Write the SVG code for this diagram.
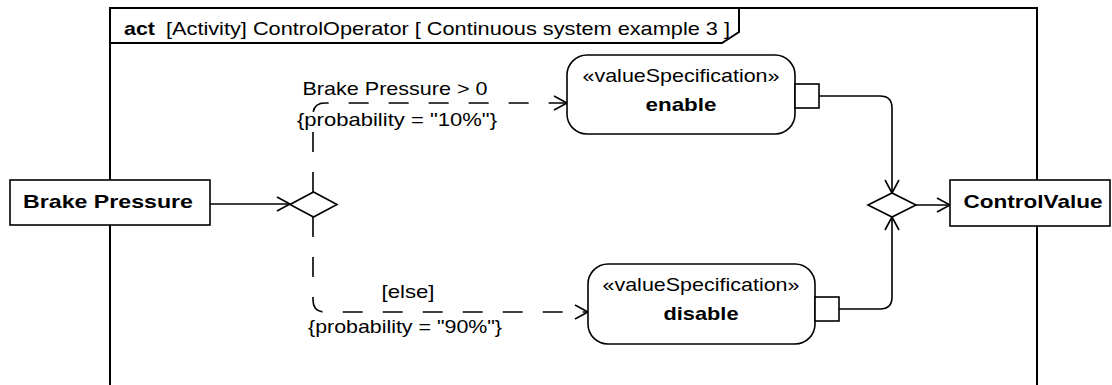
<svg xmlns="http://www.w3.org/2000/svg" width="1112" height="385" viewBox="0 0 1112 385">
<style>
text{font-family:"Liberation Sans",Arial,sans-serif;fill:#000;font-size:19px}
.b{font-weight:bold}
.m{text-anchor:middle}
.box{fill:#fff;stroke:#000;stroke-width:1.6}
.frame{fill:none;stroke:#000;stroke-width:2}
.c{fill:none;stroke:#000;stroke-width:1.6}
.d{stroke-dasharray:20,20}
</style>
<defs>
<marker id="arr" markerUnits="userSpaceOnUse" markerWidth="16" markerHeight="16" refX="13" refY="7" orient="auto" overflow="visible">
<path d="M0,0 L13,7 L0,14" fill="none" stroke="#000" stroke-width="1.6" stroke-dasharray="none"/>
</marker>
</defs>
<g id="frame">
<path class="frame" d="M110,400 L110,8 L1037,8 L1037,400"/>
<path class="frame" d="M110,43 L722,43 L739,32 L739,8"/>
<text class="b" x="124" y="35" textLength="31" lengthAdjust="spacingAndGlyphs">act</text>
<text x="166" y="35" textLength="564" lengthAdjust="spacingAndGlyphs">[Activity] ControlOperator [ Continuous system example 3 ]</text>
</g>
<g id="connectors">
<path class="c" d="M210,204 L290,204" marker-end="url(#arr)"/>
<path class="c d" d="M313,192 L313,115 Q313,103 325,103 L567,103" marker-end="url(#arr)"/>
<path class="c d" d="M313,217 L313,300 Q313,312 325,312 L588,312" marker-end="url(#arr)"/>
<path class="c" d="M819,96 L880,96 Q892,96 892,108 L892,193" marker-end="url(#arr)"/>
<path class="c" d="M839,309 L880,309 Q892,309 892,297 L892,217" marker-end="url(#arr)"/>
<path class="c" d="M916,205 L950,205" marker-end="url(#arr)"/>
<text class="m" x="395" y="95" textLength="185" lengthAdjust="spacingAndGlyphs">Brake Pressure &gt; 0</text>
<text x="297" y="126" textLength="200" lengthAdjust="spacingAndGlyphs">{probability = "10%"}</text>
<text class="m" x="408" y="298" textLength="53" lengthAdjust="spacingAndGlyphs">[else]</text>
<text x="308" y="333" textLength="194" lengthAdjust="spacingAndGlyphs">{probability = "90%"}</text>
</g>
<g id="brakePressure">
<rect class="box" x="10" y="180" width="200" height="45"/>
<text class="b m" x="108" y="208" font-size="20" textLength="170" lengthAdjust="spacingAndGlyphs">Brake Pressure</text>
</g>
<g id="decision">
<path class="box" d="M290,204.5 L313.5,192 L337,204.5 L313.5,217 Z"/>
</g>
<g id="enable">
<rect class="box" x="567" y="55" width="228" height="79" rx="20"/>
<text class="m" x="681" y="82" textLength="197" lengthAdjust="spacingAndGlyphs">«valueSpecification»</text>
<text class="b m" x="681" y="111" textLength="71" lengthAdjust="spacingAndGlyphs">enable</text>
<rect class="box" x="795" y="84" width="24" height="24"/>
</g>
<g id="disable">
<rect class="box" x="588" y="264" width="227" height="80" rx="20"/>
<text class="m" x="701" y="291" textLength="197" lengthAdjust="spacingAndGlyphs">«valueSpecification»</text>
<text class="b m" x="701" y="320" textLength="75" lengthAdjust="spacingAndGlyphs">disable</text>
<rect class="box" x="815" y="297" width="24" height="24"/>
</g>
<g id="merge">
<path class="box" d="M868,205 L892,193 L916,205 L892,217 Z"/>
</g>
<g id="controlValue">
<rect class="box" x="950" y="180" width="160" height="46"/>
<text class="b m" x="1033" y="208" font-size="20" textLength="139" lengthAdjust="spacingAndGlyphs">ControlValue</text>
</g>
</svg>
